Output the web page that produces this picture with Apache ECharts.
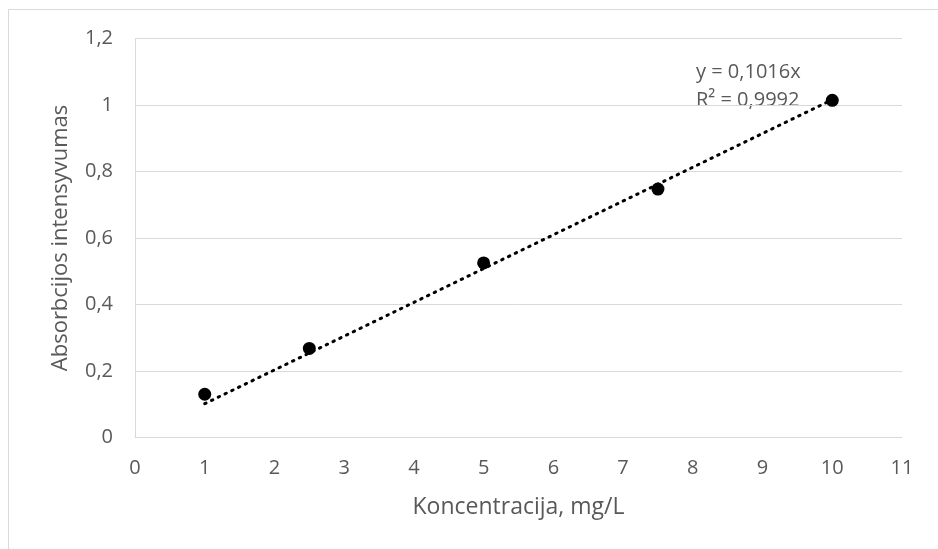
<!DOCTYPE html>
<html>
<head>
<meta charset="utf-8">
<script src="https://cdn.jsdelivr.net/npm/echarts@6/dist/echarts.min.js"></script>
<style>
  html, body { margin: 0; padding: 0; background: #fff; }
  #chart { width: 938px; height: 549px; }
</style>
</head>
<body>
<div id="chart"></div>
<script>
// matavimai
var koncentracija = [1, 2.5, 5, 7.5, 10];
var absorbcija = [0.13, 0.268, 0.525, 0.747, 1.014];
// tiesines trendo linijos galai (y = 0,1016x)
var trendX = [1, 10];
var trendY = [0.1016, 1.016];
var trendText = ['y = 0,1016x', 'R² = 0,9992'];

var pts = koncentracija.map(function (x, i) { return [x, absorbcija[i]]; });
var trend = trendX.map(function (x, i) { return [x, trendY[i]]; });

var gray = '#595959';
var font = 'Open Sans';

var myChart = echarts.init(document.getElementById('chart'));
var option = {
    animation: false,
    backgroundColor: '#fff',
    grid: { left: 135, right: 36, top: 38.5, bottom: 111.5 },
    xAxis: {
        type: 'value',
        min: 0, max: 11, interval: 1,
        name: 'Koncentracija, mg/L',
        nameLocation: 'middle',
        nameGap: 58,
        nameTextStyle: { color: gray, fontSize: 23, fontFamily: font },
        axisLine: { show: true, lineStyle: { color: '#d9d9d9', width: 1 } },
        axisTick: { show: false },
        splitLine: { show: false },
        axisLabel: { color: gray, fontSize: 20, fontFamily: font, margin: 21 }
    },
    yAxis: {
        type: 'value',
        min: 0, max: 1.2, interval: 0.2,
        name: 'Absorbcijos intensyvumas',
        nameLocation: 'middle',
        nameGap: 63,
        nameTextStyle: { color: gray, fontSize: 22, fontFamily: font },
        axisLine: { show: true, lineStyle: { color: '#d9d9d9', width: 1 } },
        axisTick: { show: false },
        splitLine: { lineStyle: { color: '#d9d9d9', width: 1 } },
        axisLabel: {
            color: gray, fontSize: 20, fontFamily: font, margin: 22,
            formatter: function (v) { return String(+v.toFixed(1)).replace('.', ','); }
        }
    },
    graphic: [
        {
            type: 'rect', silent: true, z: -1,
            shape: { x: 8.5, y: 9.5, width: 1000, height: 1000 },
            style: { fill: 'none', stroke: '#d9d9d9', lineWidth: 1 }
        },
        {
            type: 'text', left: 696, top: 58,
            style: { text: trendText.join('\n'), fill: gray, font: '20px "Open Sans"', lineHeight: 28 }
        }
    ],
    series: [
        {
            type: 'line',
            data: trend,
            symbol: 'none',
            lineStyle: { color: '#000', width: 3, type: [1.5, 6], cap: 'round' },
            z: 2
        },
        {
            type: 'scatter',
            data: pts,
            symbol: 'circle',
            symbolSize: 13,
            itemStyle: { color: '#000', opacity: 1 },
            z: 3
        }
    ]
};
myChart.setOption(option);
</script>
</body>
</html>
